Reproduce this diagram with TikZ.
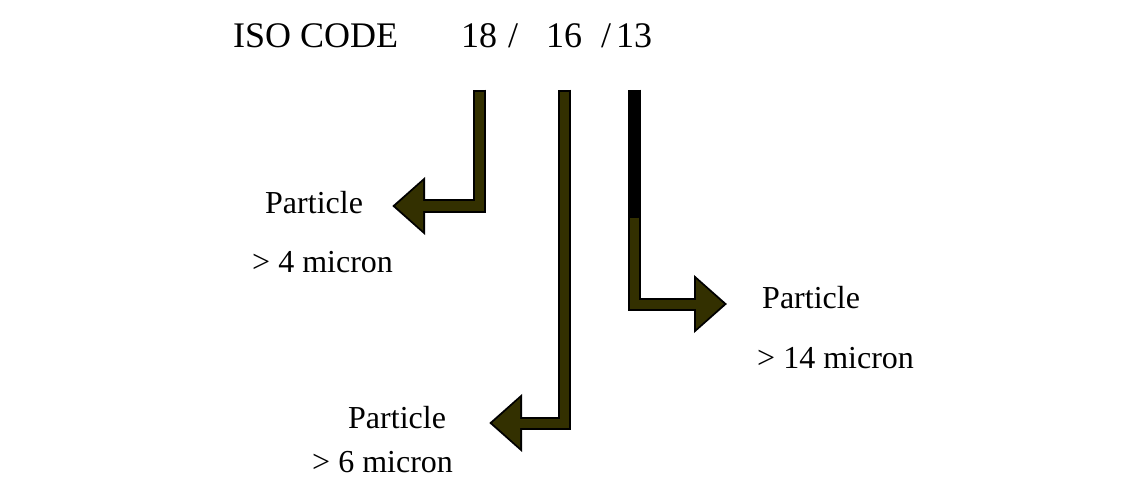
\documentclass[tikz,border=0pt]{standalone}
\usepackage{fontspec}
\setmainfont{Liberation Serif}
\usetikzlibrary{arrows.meta}
\definecolor{shaft}{HTML}{333000}

\begin{document}
\begin{tikzpicture}[x=1pt,y=-1pt,
    code/.style={font=\fontsize{36}{40}\selectfont, inner sep=0pt, anchor=base},
    lbl/.style={font=\fontsize{32}{38}\selectfont, inner sep=0pt, anchor=base west},
    outerarrow/.style={draw=black, line width=13pt, line join=miter, shorten <=41pt,
      -{Triangle[length=33pt,width=56pt]}},
    innerarrow/.style={draw=shaft, line width=9pt, line join=miter, shorten <=43pt,
      -{Triangle[length=28pt,width=48pt]}}]
  \useasboundingbox (0,0) rectangle (1145,481);
  % code line
  \node[code, anchor=base west] (iso) at (233,48) {ISO CODE};
  \node[code] (c18) at (479,48) {18};
  \node[code] (sl1) at (513,48) {/};
  \node[code] (c16) at (564,48) {16};
  \node[code] (sl2) at (606,48) {/};
  \node[code] (c13) at (634,48) {13};
  % labels
  \node[lbl] (p4) at (265,213) {Particle};
  \node[lbl] (s4) at (252,272) {> 4 micron};
  \node[lbl] (p6) at (348,428) {Particle};
  \node[lbl] (s6) at (312,472) {> 6 micron};
  \node[lbl] (p14) at (762,308) {Particle};
  \node[lbl] (s14) at (757,368) {> 14 micron};
  % arrows
  \draw[outerarrow, shorten >=29pt] (c18.south) |- ([yshift=7pt]p4.base east);
  \draw[innerarrow, shorten >=32pt] (c18.south) |- ([yshift=7pt]p4.base east);
  \draw[outerarrow, shorten >=43pt] (c16.south) |- ([yshift=5pt]p6.base east);
  \draw[innerarrow, shorten >=46pt] (c16.south) |- ([yshift=5pt]p6.base east);
  \draw[outerarrow, shorten >=35pt] (c13.south) |- ([yshift=4pt]p14.base west);
  \draw[innerarrow, shorten <=169pt, shorten >=38pt] (c13.south) |- ([yshift=4pt]p14.base west);
\end{tikzpicture}
\end{document}
